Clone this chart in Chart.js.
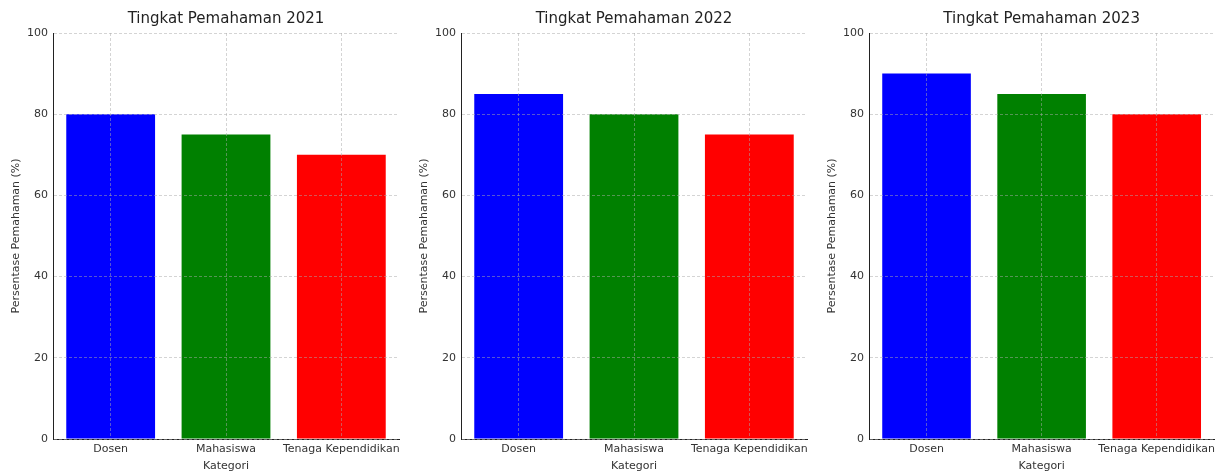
<!DOCTYPE html>
<html>
<head>
<meta charset="utf-8">
<script src="https://cdn.jsdelivr.net/npm/chart.js@4/dist/chart.umd.min.js"></script>
<style>
    body { margin: 0; background: #fff; }
    .panel { position: absolute; top: 0; height: 474px; }
</style>
</head>
<body>
<div class="panel" style="left:0;width:408px"><canvas id="chart-2021"></canvas></div>
<div class="panel" style="left:408px;width:408px"><canvas id="chart-2022"></canvas></div>
<div class="panel" style="left:816px;width:404px"><canvas id="chart-2023"></canvas></div>
<script>
// 데이터
const categories = ['Dosen', 'Mahasiswa', 'Tenaga Kependidikan'];
const years = ['2021', '2022', '2023'];
const values2021 = [80, 75, 70];
const values2022 = [85, 80, 75];
const values2023 = [90, 85, 80];
const valuesByYear = [values2021, values2022, values2023];

const barColors = ['blue', 'green', 'red'];

Chart.defaults.font.family = 'DejaVu Sans';
Chart.defaults.color = '#333';

const gridColor = 'rgba(170,170,170,0.5)';

// 차트 하나 생성
function makeChart(canvasId, year, values, rightPad) {
    const ctx = document.getElementById(canvasId).getContext('2d');
    return new Chart(ctx, {
        type: 'bar',
        data: {
            labels: categories,
            datasets: [{
                data: values,
                backgroundColor: barColors,
                borderWidth: 0,
                barPercentage: 0.77,
                categoryPercentage: 1
            }]
        },
        options: {
            responsive: true,
            maintainAspectRatio: false,
            animation: false,
            layout: { padding: { left: 0, right: rightPad, top: 0, bottom: 0 } },
            plugins: {
                legend: { display: false },
                tooltip: { enabled: false },
                title: {
                    display: true,
                    text: 'Tingkat Pemahaman ' + year,
                    fullSize: false,
                    color: '#222',
                    font: { size: 15, weight: 'normal' },
                    padding: { top: 10, bottom: 5 }
                }
            },
            scales: {
                x: {
                    grid: { offset: false, drawTicks: false, color: gridColor, z: 1 },
                    // grid 위에 축선 (z 같게)
                    border: { display: true, color: '#222', width: 1, dash: [3, 2], z: 1 },
                    ticks: { padding: 4, font: { size: 11 }, maxRotation: 0, minRotation: 0, autoSkip: false },
                    title: {
                        display: true,
                        text: 'Kategori',
                        font: { size: 11 },
                        padding: { top: 0, bottom: 1 }
                    },
                    afterFit: (scale) => { scale.height = 35; }
                },
                y: {
                    min: 0,
                    max: 100,
                    grid: { drawTicks: false, color: gridColor, z: 1 },
                    border: { display: true, color: '#222', width: 1, dash: [3, 2], z: 1 },
                    ticks: { stepSize: 20, padding: 5, font: { size: 11 } },
                    title: {
                        display: true,
                        text: 'Persentase Pemahaman (%)',
                        font: { size: 11 },
                        padding: { top: 10, bottom: 0 }
                    },
                    afterFit: (scale) => { scale.width = 53; }
                }
            }
        }
    });
}

years.forEach((year, i) => {
    makeChart('chart-' + year, year, valuesByYear[i], i === 2 ? 4 : 9);
});
</script>
</body>
</html>
